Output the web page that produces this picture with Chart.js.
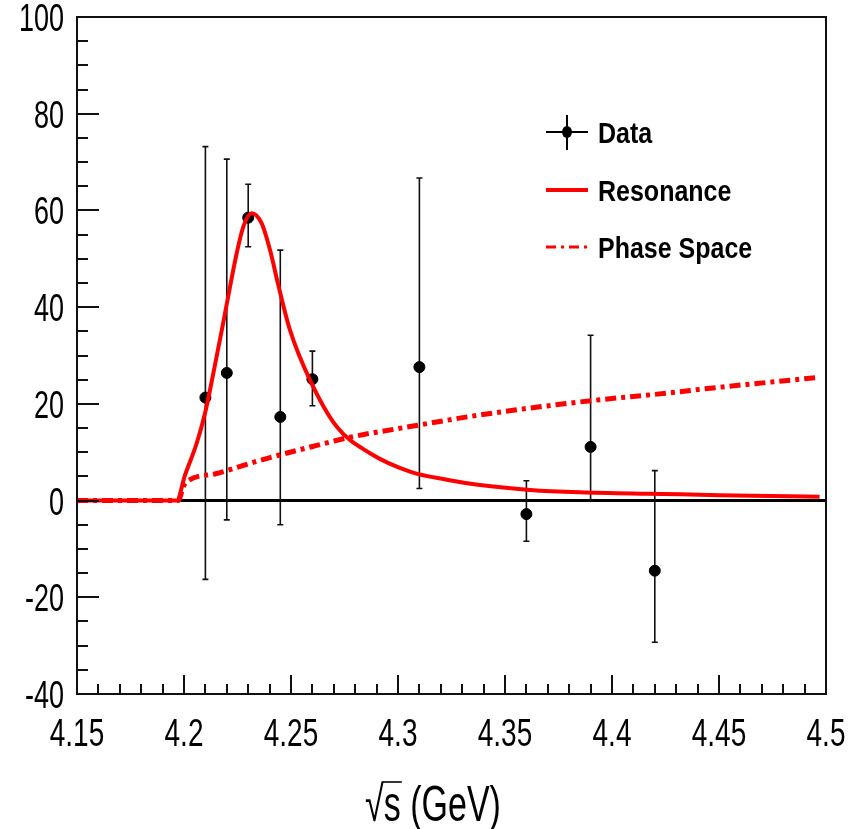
<!DOCTYPE html>
<html>
<head>
<meta charset="utf-8">
<script src="https://cdn.jsdelivr.net/npm/chart.js@4.4.0/dist/chart.umd.min.js"></script>
<style>
  html, body { margin: 0; padding: 0; background: #ffffff; }
  #wrap { width: 852px; height: 829px; position: relative; }
</style>
</head>
<body>
<div id="wrap"><canvas id="c" width="852" height="829"></canvas></div>
<script>
// ---- Data ----
const dataX      = [4.21, 4.22, 4.23, 4.245, 4.26, 4.31, 4.36, 4.39, 4.42];
const dataY      = [21.3, 26.4, 58.5, 17.3, 25.1, 27.6, -2.8, 11.1, -14.5];
const dataErrHi  = [73.2, 70.6, 65.4, 51.8, 30.9, 66.7, 4.1, 34.2, 6.2];
const dataErrLo  = [-16.3, -4.0, 52.5, -5.0, 19.6, 2.5, -8.4, 0.0, -29.3];

const resX = [4.15, 4.1966, 4.2005, 4.2059, 4.2098, 4.2137, 4.2183, 4.2215, 4.2246, 4.2277, 4.2316, 4.2363, 4.2402, 4.2441, 4.2495, 4.2589, 4.2713, 4.2869, 4.3056, 4.3228, 4.3383, 4.3617, 4.385, 4.4162, 4.432, 4.45, 4.475, 4.497];
const resY = [0, 0, 5.3, 11.8, 18.0, 26.3, 36.7, 44.2, 51.1, 56.6, 59.4, 57.3, 51.8, 44.5, 35.3, 24.9, 15.3, 9.8, 6.0, 4.3, 3.2, 2.2, 1.7, 1.4, 1.3, 1.1, 0.95, 0.8];

const psX = [4.15, 4.1973, 4.1997, 4.2013, 4.2153, 4.2308, 4.2402, 4.262, 4.2776, 4.3056, 4.3383, 4.385, 4.4318, 4.4411, 4.4972];
const psY = [0, 0, 2.9, 3.9, 5.6, 7.7, 8.9, 11.4, 13.1, 15.3, 17.7, 20.4, 22.5, 23.0, 25.5];

const xTickLabels = ['4.15', '4.2', '4.25', '4.3', '4.35', '4.4', '4.45', '4.5'];
const yTickLabels = ['100', '80', '60', '40', '20', '0', '-20', '-40'];
const legendLabels = ['Data', 'Resonance', 'Phase Space'];
const axisTitle = '\u221As (GeV)';

// ---- helpers ----
function stretchedText(ctx, text, x, y, size, weight, align, sy) {
  ctx.save();
  ctx.translate(x, y);
  ctx.scale(1, sy);
  ctx.font = weight + ' ' + size + 'px "Liberation Sans", Arial, sans-serif';
  ctx.textAlign = align;
  ctx.textBaseline = 'alphabetic';
  ctx.fillStyle = '#000';
  ctx.fillText(text, 0, 0);
  const w = ctx.measureText(text).width;
  ctx.restore();
  return w;
}

const errorBarPlugin = {
  id: 'errorBars',
  beforeDatasetsDraw(chart) {
    const ctx = chart.ctx, xs = chart.scales.x, ys = chart.scales.y;
    const a = chart.chartArea;
    ctx.save();
    ctx.strokeStyle = '#000';
    ctx.lineWidth = 3;
    ctx.beginPath();
    ctx.moveTo(a.left, ys.getPixelForValue(0));
    ctx.lineTo(a.right, ys.getPixelForValue(0));
    ctx.stroke();
    ctx.strokeStyle = '#111';
    ctx.lineWidth = 1.6;
    for (let i = 0; i < dataX.length; i++) {
      const px = xs.getPixelForValue(dataX[i]);
      const yt = ys.getPixelForValue(dataErrHi[i]);
      const yb = ys.getPixelForValue(dataErrLo[i]);
      ctx.beginPath();
      ctx.moveTo(px, yt); ctx.lineTo(px, yb);
      ctx.moveTo(px - 3, yt); ctx.lineTo(px + 3, yt);
      ctx.moveTo(px - 3, yb); ctx.lineTo(px + 3, yb);
      ctx.stroke();
    }
    ctx.restore();
  },
  afterDraw(chart) {
    const ctx = chart.ctx, xs = chart.scales.x, ys = chart.scales.y;
    const a = chart.chartArea;
    ctx.save();
    ctx.strokeStyle = '#111';
    ctx.lineWidth = 2;
    ctx.strokeRect(a.left, a.top, a.right - a.left, a.bottom - a.top);
    ctx.beginPath();
    for (let v = -40; v <= 100; v += 5) {
      const py = Math.round(ys.getPixelForValue(v));
      const len = (v % 20 === 0) ? 22 : 11;
      ctx.moveTo(a.left, py); ctx.lineTo(a.left + len, py);
    }
    for (let k = 0; k <= 35; k++) {
      const v = 4.15 + k * 0.01;
      const px = Math.round(xs.getPixelForValue(v));
      const len = (k % 5 === 0) ? 19 : 10;
      ctx.moveTo(px, a.bottom); ctx.lineTo(px, a.bottom - len);
    }
    ctx.stroke();
    yTickLabels.forEach(l => {
      const py = ys.getPixelForValue(parseFloat(l));
      stretchedText(ctx, l, 64, py + 14, 27, 'normal', 'right', 1.45);
    });
    xTickLabels.forEach(l => {
      const px = xs.getPixelForValue(parseFloat(l));
      stretchedText(ctx, l, px, 746, 28, 'normal', 'center', 1.4);
    });
    ctx.save();
    ctx.font = 'normal 34px "Liberation Sans", Arial, sans-serif';
    const fullW = ctx.measureText(axisTitle).width;
    const rootW = ctx.measureText('\u221A').width;
    const sW = ctx.measureText('s').width;
    ctx.restore();
    const tx0 = 433 - fullW / 2;
    stretchedText(ctx, axisTitle, tx0, 821, 34, 'normal', 'left', 1.45);
    ctx.strokeStyle = '#000';
    ctx.lineWidth = 1.6;
    ctx.beginPath();
    ctx.moveTo(tx0 + rootW - 2, 782);
    ctx.lineTo(tx0 + rootW + sW + 1, 782);
    ctx.stroke();

    const rows = [132, 190, 247];
    const lx0 = 546, lx1 = 588;
    ctx.strokeStyle = '#000';
    ctx.lineWidth = 2;
    ctx.beginPath();
    ctx.moveTo(lx0, rows[0]); ctx.lineTo(lx1, rows[0]);
    ctx.moveTo(567, rows[0] - 17); ctx.lineTo(567, rows[0] + 18);
    ctx.stroke();
    ctx.fillStyle = '#000';
    ctx.beginPath();
    ctx.ellipse(567, rows[0], 5, 6, 0, 0, Math.PI * 2);
    ctx.fill();
    ctx.strokeStyle = '#ff0000';
    ctx.lineWidth = 4;
    ctx.beginPath();
    ctx.moveTo(lx0, rows[1]); ctx.lineTo(lx1, rows[1]);
    ctx.stroke();
    ctx.lineWidth = 3;
    ctx.setLineDash([10, 5, 3, 5]);
    ctx.beginPath();
    ctx.moveTo(lx0, rows[2]); ctx.lineTo(lx1, rows[2]);
    ctx.stroke();
    ctx.setLineDash([]);
    legendLabels.forEach((t, i) => {
      stretchedText(ctx, t, 598, rows[i] + 10.5, 25, 'bold', 'left', 1.2);
    });
    ctx.restore();
  }
};

new Chart(document.getElementById('c'), {
  type: 'scatter',
  data: {
    datasets: [
      {
        label: legendLabels[1],
        type: 'line',
        data: resX.map((x, i) => ({ x: x, y: resY[i] })),
        borderColor: '#ff0000',
        borderWidth: 4,
        pointRadius: 0,
        cubicInterpolationMode: 'monotone',
        fill: false,
        order: 0
      },
      {
        label: legendLabels[2],
        type: 'line',
        data: psX.map((x, i) => ({ x: x, y: psY[i] })),
        borderColor: '#ff0000',
        borderWidth: 5,
        borderDash: [11, 5, 4, 5],
        pointRadius: 0,
        cubicInterpolationMode: 'monotone',
        fill: false,
        order: 1
      },
      {
        label: legendLabels[0],
        data: dataX.map((x, i) => ({ x: x, y: dataY[i] })),
        backgroundColor: '#000',
        borderColor: '#000',
        pointRadius: 5.5,
        pointStyle: 'circle',
        order: 2
      }
    ]
  },
  options: {
    responsive: false,
    animation: false,
    devicePixelRatio: 1,
    layout: { padding: { left: 0, top: 17, right: 26, bottom: 0 } },
    plugins: { legend: { display: false }, tooltip: { enabled: false } },
    scales: {
      x: {
        type: 'linear', min: 4.15, max: 4.5,
        ticks: { display: false, stepSize: 0.05 },
        grid: { display: false }, border: { display: false },
        afterFit: s => { s.height = 135; }
      },
      y: {
        type: 'linear', min: -40, max: 100,
        ticks: { display: false, stepSize: 20 },
        grid: { display: false }, border: { display: false },
        afterFit: s => { s.width = 77; }
      }
    }
  },
  plugins: [errorBarPlugin]
});
</script>
</body>
</html>
